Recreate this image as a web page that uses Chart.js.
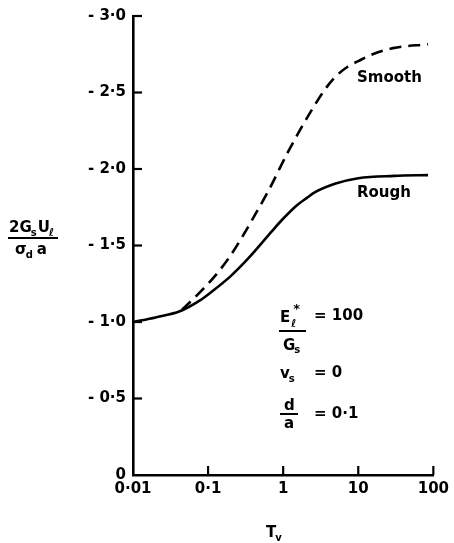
<!DOCTYPE html>
<html><head><meta charset="utf-8">
<script src="https://cdn.jsdelivr.net/npm/chart.js@4/dist/chart.umd.min.js"></script>
<style>html,body{margin:0;padding:0;background:#fff}#wrap{width:454px;height:543px}</style>
</head><body><div id="wrap"><canvas id="c" width="454" height="543"></canvas></div>
<script>
// ---- data ----
const roughT = [0.01, 0.02, 0.042, 0.077, 0.113, 0.2, 0.35, 0.7, 0.955, 1.5, 2.05, 2.7, 5, 10, 30, 85];
const roughY = [1.00, 1.03, 1.07, 1.14, 1.20, 1.30, 1.42, 1.59, 1.665, 1.76, 1.81, 1.85, 1.905, 1.94, 1.955, 1.96];
const smoothT = [0.045, 0.08, 0.128, 0.19, 0.30, 0.41, 0.64, 1.17, 2.5, 4.0, 5.4, 7.3, 10, 14.7, 29, 85];
const smoothY = [1.08, 1.20, 1.31, 1.42, 1.575, 1.69, 1.86, 2.115, 2.40, 2.55, 2.62, 2.67, 2.705, 2.745, 2.79, 2.815];
const xTickValues = [0.01, 0.1, 1, 10, 100];
const xTickLabels = ['0·01', '0·1', '1', '10', '100'];
const yTickValues = [0, 0.5, 1, 1.5, 2, 2.5, 3];
const yTickLabels = ['0', '- 0·5', '- 1·0', '- 1·5', '- 2·0', '- 2·5', '- 3·0'];
const seriesNames = ['Rough', 'Smooth'];

const FONT = 'DejaVu Sans';
const tickFont = {family: FONT, size: 15, weight: 'bold'};

const annot = {
  id: 'annot',
  afterDraw(chart) {
    const ctx = chart.ctx, xs = chart.scales.x, ys = chart.scales.y, a = chart.chartArea;
    ctx.save();
    ctx.strokeStyle = '#000'; ctx.fillStyle = '#000'; ctx.lineWidth = 2.2; ctx.lineCap = 'butt';
    // inward tick marks
    yTickValues.forEach(v => { if (v === 0) return; const p = ys.getPixelForValue(v);
      ctx.beginPath(); ctx.moveTo(a.left, p); ctx.lineTo(a.left + 9, p); ctx.stroke(); });
    xTickValues.forEach((v, i) => { if (i === 0) return; const p = xs.getPixelForValue(v);
      ctx.beginPath(); ctx.moveTo(p, a.bottom); ctx.lineTo(p, a.bottom - 9); ctx.stroke(); });

    const f = (s, w) => (w || 'bold') + ' ' + s + 'px "' + FONT + '"';
    let x;
    const put = (t, px, py, size, base) => { ctx.font = f(size); ctx.textBaseline = base || 'alphabetic'; ctx.textAlign = 'left'; ctx.fillText(t, px, py); return px + ctx.measureText(t).width; };
    const hline = (x1, x2, y) => { ctx.beginPath(); ctx.lineWidth = 2; ctx.moveTo(x1, y); ctx.lineTo(x2, y); ctx.stroke(); };

    // y-axis title fraction
    x = put('2G', 9, 232, 15); x = put('s', x - 1, 236, 10); x = put('U', x + 1, 232, 15); put('ℓ', x - 1, 236, 11);
    hline(8, 58, 238);
    x = put('σ', 15, 254, 15); x = put('d', x - 1, 258, 10); put('a', x + 4, 254, 15);

    // curve labels
    put(seriesNames[1], 357, 78, 15, 'middle');
    put(seriesNames[0], 357, 193, 15, 'middle');

    // parameters
    x = put('E', 280, 322, 15); put('*', x + 3, 313, 13); put('ℓ', x + 1, 327, 11);
    hline(279, 306, 331);
    x = put('G', 283, 350, 15); put('s', x - 1, 353, 10);
    put('= 100', 314, 316, 15, 'middle');
    x = put('v', 280, 378, 15); put('s', x - 1, 382, 10);
    put('= 0', 314, 373, 15, 'middle');
    put('d', 284, 410, 15);
    hline(280, 298, 414);
    put('a', 284, 428, 15);
    put('= 0·1', 314, 414, 15, 'middle');

    // x-axis title
    x = put('T', 266, 537, 15); put('v', x - 1, 541, 10);
    ctx.restore();
  }
};

new Chart(document.getElementById('c'), {
  type: 'line',
  data: {
    datasets: [
      {label: seriesNames[0], data: roughT.map((t, i) => ({x: t, y: roughY[i]})),
       borderColor: '#000', borderWidth: 2.6, pointRadius: 0, cubicInterpolationMode: 'monotone', fill: false},
      {label: seriesNames[1], data: smoothT.map((t, i) => ({x: t, y: smoothY[i]})),
       borderColor: '#000', borderWidth: 2.6, borderDash: [12, 7], pointRadius: 0, cubicInterpolationMode: 'monotone', fill: false}
    ]
  },
  options: {
    responsive: false, animation: false, devicePixelRatio: 1,
    layout: {padding: {top: 14, right: 18, left: 0, bottom: 0}},
    plugins: {legend: {display: false}, tooltip: {enabled: false}},
    scales: {
      x: {
        type: 'logarithmic', min: 0.01, max: 100,
        afterBuildTicks: s => { s.ticks = xTickValues.map(v => ({value: v})); },
        afterFit: s => { s.height = 68; },
        ticks: {callback: (v, i) => xTickLabels[i], font: tickFont, color: '#000', padding: 5, maxRotation: 0, autoSkip: false},
        grid: {display: false, drawTicks: false},
        border: {display: true, width: 2.6, color: '#000'}
      },
      y: {
        type: 'linear', min: 0, max: 3,
        afterBuildTicks: s => { s.ticks = yTickValues.map(v => ({value: v})); },
        afterFit: s => { s.width = 133; },
        ticks: {callback: (v, i) => yTickLabels[i], font: tickFont, color: '#000', padding: 7, autoSkip: false},
        grid: {display: false, drawTicks: false},
        border: {display: true, width: 2.6, color: '#000'}
      }
    }
  },
  plugins: [annot]
});
</script></body></html>
